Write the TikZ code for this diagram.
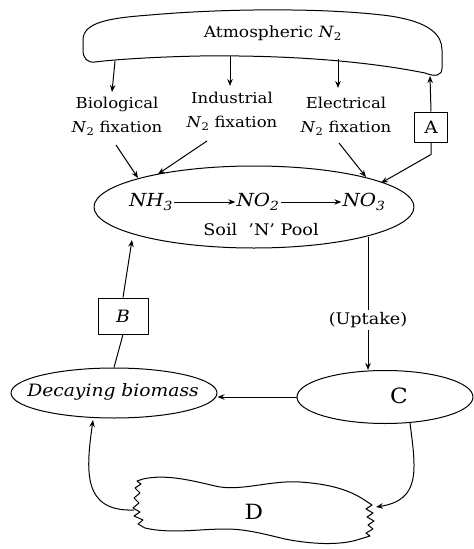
\documentclass[tikz,border=0pt]{standalone}
\usepackage{fontspec}
\setmainfont{DejaVu Serif}[FakeStretch=1.1]
\usetikzlibrary{arrows.meta,shapes.geometric}
\tikzset{
  ln/.style={line width=1pt, line join=round},
  arr/.style={ln, -{Stealth[length=7pt,width=5.5pt]}},
  lbl/.style={font=\fontsize{15}{24}\selectfont, align=center, inner sep=0pt},
  chem/.style={font=\fontsize{18}{20}\selectfont\itshape, inner sep=1pt},
  letterbox/.style={draw, ln, inner sep=0pt, font=\fontsize{17}{19}\selectfont},
  oval/.style={draw, ln, ellipse, inner sep=0pt},
}
\begin{document}
\begin{tikzpicture}[x=1pt,y=-1pt]
\useasboundingbox (0,0) rectangle (474,549);

% Atmospheric N2 box
\draw[ln] (83,40) .. controls (83,22) and (110,18) .. (150,15)
  .. controls (230,8) and (330,8) .. (390,16)
  .. controls (430,22) and (442,35) .. (442,50) -- (442,68)
  .. controls (442,76) and (435,77) .. (425,73)
  .. controls (360,60) and (280,55) .. (200,56)
  .. controls (150,57) and (110,60) .. (95,62)
  .. controls (87,63) and (83,58) .. (83,50) -- cycle;
\node[font=\fontsize{15.5}{17}\selectfont, inner sep=0pt] (atm) at (273,33) {Atmospheric \textit{N}\textsubscript{2}};
\coordinate (a1) at (115,61);
\coordinate (a2) at (230,56);
\coordinate (a3) at (338,59);
\coordinate (a4) at (430,76);

% fixation labels
\node[lbl] (bio) at (117,116) {Biological\\\textit{N}\textsubscript{2} fixation};
\node[lbl] (ind) at (232,111) {Industrial\\\textit{N}\textsubscript{2} fixation};
\node[lbl] (ele) at (346,116) {Electrical\\\textit{N}\textsubscript{2} fixation};
\node[letterbox, minimum width=33pt, minimum height=30pt] (A) at (431,127) {A};

\draw[arr] (a1) -- (112,92);
\draw[arr] (a2) -- (230,86);
\draw[arr] (a3) -- (338,88);
\draw[arr] (A.north) -- (a4);

% soil N pool
\node[oval, minimum width=320pt, minimum height=82pt] (soil) at (254,207) {};
\node[chem] (nh3) at (151,202) {NH\textsubscript{3}};
\node[chem] (no2) at (258,202) {NO\textsubscript{2}};
\node[chem] (no3) at (364,202) {NO\textsubscript{3}};
\node[font=\fontsize{16}{18}\selectfont, inner sep=0pt] (pool) at (261,230) {Soil~~'N' Pool};
\draw[arr] (nh3.east) -- (no2.west);
\draw[arr] (no2.east) -- (no3.west);

\coordinate (s1) at (138,178);
\coordinate (s2) at (158,174);
\coordinate (s3) at (366,177);
\coordinate (s4) at (381,183);
\coordinate (t1) at (116,145);
\coordinate (t2) at (207,141);
\coordinate (t3) at (339,143);
\draw[arr] (t1) -- (s1);
\draw[arr] (t2) -- (s2);
\draw[arr] (t3) -- (s3);
\draw[arr] (A.south) -- ++(0,12) -- (s4);

% uptake
\coordinate (u0) at (368,237);
\node[font=\fontsize{16}{18}\selectfont, inner sep=2pt] (up) at (368,320) {(Uptake)};
\draw[ln] (u0) -- (up.north);

% C and decaying biomass
\node[oval, minimum width=176pt, minimum height=53pt] (C) at (385,397) {};
\node[font=\fontsize{21}{23}\selectfont, inner sep=0pt] (Ct) at (399,396) {C};
\draw[arr] (up.south) -- (up.south |- C.north);

\node[oval, minimum width=206pt, minimum height=50pt] (dec) at (114,393) {};
\node[font=\fontsize{17}{19}\selectfont\itshape, inner sep=0pt] (dect) at (113,392) {Decaying biomass};
\draw[arr] (C.west) -- (C.west -| dec.east);

% B
\node[letterbox, minimum width=50pt, minimum height=36pt, font=\fontsize{17}{19}\selectfont\itshape] (B) at (123,316) {B};
\draw[ln] (dec.north) -- (B.south);
\coordinate (s5) at (132,240);
\draw[arr] (B.north) -- (s5);

% D blob
\draw[ln] (143,479)
 .. controls (165,474) and (190,480) .. (215,486)
 .. controls (240,492) and (270,480) .. (300,482)
 .. controls (330,484) and (350,490) .. (366,501)
 -- (372,505) -- (366,509) -- (373,513) -- (367,517) -- (374,521) -- (368,525) -- (373,529) -- (366,533) -- (370,536) -- (360,539)
 .. controls (340,546) and (310,544) .. (285,539)
 .. controls (260,533) and (245,529) .. (225,529)
 .. controls (200,529) and (170,534) .. (145,528)
 -- (138,524) -- (143,520) -- (134,516) -- (140,512) -- (133,508) -- (139,503) -- (134,498) -- (140,493) -- (135,488) -- (141,484) -- (137,481) -- cycle;
\node[font=\fontsize{21}{23}\selectfont, inner sep=0pt] (D) at (254,512) {D};
\coordinate (Dl) at (134,510);
\coordinate (Dr) at (376,507);
\coordinate (cC) at (410,423);
\coordinate (dB) at (93,420);

\draw[arr] (cC) .. controls (416,470) and (421,500) .. (Dr);
\draw[arr] (Dl) .. controls (82,512) and (86,470) .. (dB);
\end{tikzpicture}
\end{document}
